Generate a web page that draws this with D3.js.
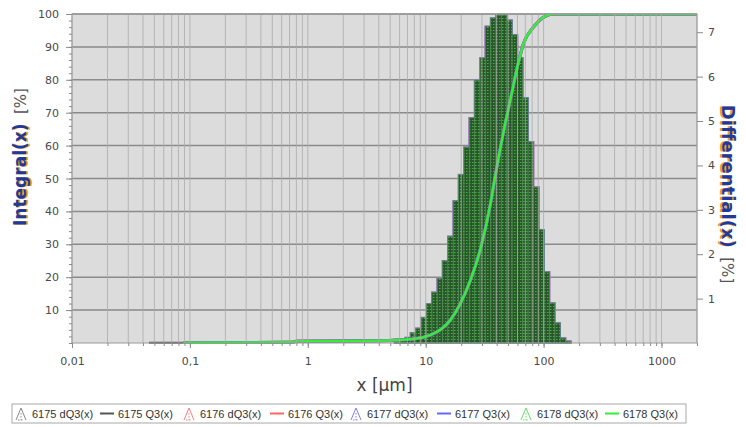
<!DOCTYPE html>
<html>
<head>
<meta charset="utf-8">
<script src="https://cdn.jsdelivr.net/npm/d3@7"></script>
<style>
  html, body { margin: 0; padding: 0; background: #fff; }
  svg { display: block; }
</style>
</head>
<body>
<div id="svg-container"></div>
<script>
/* global d3 */
(function () {
  'use strict'

  // class edges of the histogram [µm]
  var binEdges = [5.44, 6.04, 6.7, 7.44, 8.26, 9.16, 10.17, 11.29, 12.53, 13.91, 15.44, 17.14,
    19.02, 21.12, 23.44, 26.02, 28.88, 32.06, 35.58, 39.5, 43.84, 48.66, 54.02,
    59.96, 66.55, 73.88, 82.0, 91.02, 101.0, 112.2, 124.5, 138.2, 153.4, 170.2]
  // differential dQ3 [%] per class
  var dQ3 = [0.03, 0.06, 0.12, 0.23, 0.33, 0.57, 0.88, 1.14, 1.45, 1.85, 2.4, 3.2,
    3.79, 4.41, 5.07, 5.92, 6.42, 7.13, 7.32, 7.39, 7.39, 7.27, 6.94,
    6.42, 5.52, 4.53, 3.51, 2.55, 1.6, 0.9, 0.45, 0.11, 0.04]

  // cumulative Q3 [%]
  var q3Size = [0.088, 0.74, 0.8, 4.1, 7.85, 10.9, 13.3, 16.2, 19.7, 23.9, 29.1, 35.3,
    39.0, 45.6, 52.3, 60.0, 67.5, 81.9, 99.6, 121, 2000]
  var q3Value = [0.1, 0.2, 0.5, 0.7, 1.2, 2.4, 4, 7, 12, 19, 28.5, 42,
    51, 64, 74, 84, 91, 96, 99, 100, 100]
  // 6175 starts a little finer
  var q3Size6175 = [0.045, 0.088]
  var q3Value6175 = [0.1, 0.1]

  var xTicks = [0.01, 0.1, 1, 10, 100, 1000]
  var xTickLabels = ['0,01', '0,1', '1', '10', '100', '1000']
  var leftTicks = [10, 20, 30, 40, 50, 60, 70, 80, 90, 100]
  var rightTicks = [1, 2, 3, 4, 5, 6, 7]

  var samples = ['6175', '6176', '6177', '6178']
  var sampleColors = ['#555555', '#ff6666', '#6666ff', '#33ee33']
  var iconColors = ['#8a8a8a', '#f07f7f', '#7f7ff0', '#66dd66']

  var dimensions = { w: 746, h: 427 }
  var offset = { left: 72, top: 14, right: 49, bottom: 84 }
  var plotW = dimensions.w - offset.left - offset.right
  var plotH = dimensions.h - offset.top - offset.bottom

  var svg = d3.select('#svg-container').append('svg')
    .attr('width', dimensions.w)
    .attr('height', dimensions.h)
    .style('font-family', '"DejaVu Sans", sans-serif')

  var defs = svg.append('defs')
  var pat = defs.append('pattern')
    .attr('id', 'dots')
    .attr('width', 3).attr('height', 3)
    .attr('patternUnits', 'userSpaceOnUse')
  pat.append('rect').attr('width', 3).attr('height', 3).attr('fill', '#2a562b')
  pat.append('rect').attr('x', 1).attr('y', 1).attr('width', 1.5).attr('height', 1)
    .attr('fill', '#44b044')
  defs.append('clipPath').attr('id', 'plot-clip')
    .append('rect').attr('width', plotW).attr('height', plotH + 1)

  var scaleX = d3.scaleLog().domain([0.01, 2000]).range([0, plotW])
  var scaleL = d3.scaleLinear().domain([0, 100]).range([plotH, 0])
  var scaleR = d3.scaleLinear().domain([0, 7.41]).range([plotH, 0])

  var g = svg.append('g')
    .attr('transform', 'translate(' + offset.left + ',' + offset.top + ')')

  // background
  g.append('rect')
    .attr('width', plotW).attr('height', plotH)
    .attr('fill', '#dcdcdc')

  // minor log positions (1..9 per decade)
  var logLines = []
  for (var e = -2; e <= 3; e++) {
    for (var k = 1; k <= 9; k++) {
      var v = k * Math.pow(10, e)
      if (v >= 0.01 && v <= 2000) logLines.push(+v.toPrecision(3))
    }
  }

  // horizontal grid
  g.append('g').selectAll('line').data(leftTicks).enter().append('line')
    .attr('x1', 0).attr('x2', plotW)
    .attr('y1', function (d) { return scaleL(d) })
    .attr('y2', function (d) { return scaleL(d) })
    .attr('stroke', '#8a8a8a').attr('stroke-width', 1.5)

  var plot = g.append('g').attr('clip-path', 'url(#plot-clip)')

  // histograms, one per sample, the last one on top
  var bins = dQ3.map(function (d, i) { return { x0: binEdges[i], x1: binEdges[i + 1], v: d } })
  samples.forEach(function (s, si) {
    var last = si === samples.length - 1
    plot.append('g').selectAll('rect').data(bins).enter().append('rect')
      .attr('x', function (d) { return scaleX(d.x0) })
      .attr('y', function (d) { return scaleR(d.v) })
      .attr('width', function (d) { return scaleX(d.x1) - scaleX(d.x0) })
      .attr('height', function (d) { return plotH - scaleR(d.v) })
      .attr('fill', last ? 'url(#dots)' : 'none')
      .attr('stroke', last ? '#4f8a4f' : iconColors[si])
      .attr('stroke-width', last ? 0.8 : 1.6)
  })

  // vertical grid drawn over the bars
  g.append('g').selectAll('line').data(logLines).enter().append('line')
    .attr('x1', function (d) { return scaleX(d) })
    .attr('x2', function (d) { return scaleX(d) })
    .attr('y1', 0).attr('y2', plotH)
    .attr('stroke', '#ababab').attr('stroke-opacity', 0.8).attr('stroke-width', 1)

  // cumulative lines
  var line = d3.line()
    .x(function (d) { return scaleX(d[0]) })
    .y(function (d) { return scaleL(d[1]) })
    .curve(d3.curveMonotoneX)
  var q3 = q3Size.map(function (d, i) { return [d, q3Value[i]] })
  var q3a = q3Size6175.map(function (d, i) { return [d, q3Value6175[i]] })
  plot.append('path').datum(q3a)
    .attr('d', line).attr('fill', 'none')
    .attr('stroke', sampleColors[0]).attr('stroke-width', 2)
  samples.forEach(function (s, si) {
    plot.append('path').datum(q3)
      .attr('d', line).attr('fill', 'none')
      .attr('stroke', sampleColors[si])
      .attr('stroke-width', si === samples.length - 1 ? 2.5 : 3)
  })

  // frame
  g.append('rect')
    .attr('width', plotW).attr('height', plotH)
    .attr('fill', 'none').attr('stroke', '#9a9a9a')

  // left axis
  var leftAxis = d3.axisLeft(scaleL).tickValues(leftTicks).tickSize(6).tickPadding(7)
  var la = g.append('g').call(leftAxis)
  var leftMinor = d3.axisLeft(scaleL).tickValues(d3.range(0, 101, 2)).tickSize(3).tickFormat('')
  g.append('g').call(leftMinor)

  // right axis
  var rightAxis = d3.axisRight(scaleR).tickValues(rightTicks).tickSize(6).tickPadding(5)
  var ra = g.append('g').attr('transform', 'translate(' + plotW + ',0)').call(rightAxis)

  // bottom axis
  var bottomAxis = d3.axisBottom(scaleX).tickValues(xTicks).tickSize(5).tickPadding(9)
    .tickFormat(function (d, i) { return xTickLabels[i] })
  var ba = g.append('g').attr('transform', 'translate(0,' + plotH + ')').call(bottomAxis)
  var bottomMinor = d3.axisBottom(scaleX).tickValues(logLines).tickSize(3).tickFormat('')
  g.append('g').attr('transform', 'translate(0,' + plotH + ')').call(bottomMinor)

  g.selectAll('.domain').remove()
  g.selectAll('.tick line').attr('stroke', '#8a8a8a')
  ;[la, ra, ba].forEach(function (a) {
    a.selectAll('text')
      .attr('fill', '#4a4a4a')
      .style('font-size', '11px')
      .style('font-family', '"DejaVu Sans", sans-serif')
  })

  // axis titles
  svg.append('text')
    .attr('x', offset.left + plotW / 2).attr('y', 391)
    .attr('text-anchor', 'middle')
    .attr('fill', '#444')
    .style('font-size', '17px')
    .text('x [µm]')

  function title (x, y, rot, main, unit, size, shadowDy) {
    var t = svg.append('g').attr('transform', 'translate(' + x + ',' + y + ') rotate(' + rot + ')')
    ;[['#f39c1f', shadowDy], ['#1f3a9a', 0]].forEach(function (c) {
      var txt = t.append('text').attr('text-anchor', 'middle')
        .attr('y', c[1])
      txt.append('tspan').text(main)
        .attr('font-weight', 'bold')
        .attr('fill', c[0])
        .style('font-size', size + 'px')
      txt.append('tspan').text('\u00a0 ' + unit)
        .attr('fill', c[1] === 0 ? '#555' : 'none')
        .style('font-size', '15px')
    })
  }
  title(26, 157, -90, 'Integral(x)', '[%]', 17, 1.6)
  title(722, 194, 90, 'Differential(x)', '[%]', 18, 1.6)

  // legend
  var lg = svg.append('g').attr('transform', 'translate(12,404)')
  lg.append('rect').attr('width', 674).attr('height', 19)
    .attr('fill', '#fff').attr('stroke', '#a8a8a8')
  var legendX = [3, 88, 171, 258, 338, 425, 508, 593]
  samples.forEach(function (s, si) {
    var gx = legendX[si * 2]
    var tri = lg.append('g').attr('transform', 'translate(' + gx + ',0)')
    tri.append('path').attr('d', 'M1,16 L6,4 L11,16')
      .attr('fill', 'none').attr('stroke', iconColors[si]).attr('stroke-width', 1)
    tri.append('line').attr('x1', 6).attr('x2', 6).attr('y1', 9).attr('y2', 16)
      .attr('stroke', iconColors[si]).attr('stroke-dasharray', '1.5,1.5')
    tri.append('line').attr('x1', 3).attr('x2', 9).attr('y1', 16).attr('y2', 16)
      .attr('stroke', iconColors[si]).attr('stroke-dasharray', '1.5,1.5')
    lg.append('text').attr('x', gx + 17).attr('y', 13.5)
      .attr('fill', '#333').style('font-size', '11px')
      .style('font-family', '"Liberation Sans", sans-serif')
      .text(s + ' dQ3(x)')
    var lx = legendX[si * 2 + 1]
    lg.append('line').attr('x1', lx).attr('x2', lx + 14).attr('y1', 9.5).attr('y2', 9.5)
      .attr('stroke', sampleColors[si]).attr('stroke-width', 2)
    lg.append('text').attr('x', lx + 18).attr('y', 13.5)
      .attr('fill', '#333').style('font-size', '11px')
      .style('font-family', '"Liberation Sans", sans-serif')
      .text(s + ' Q3(x)')
  })
}())
</script>
</body>
</html>
